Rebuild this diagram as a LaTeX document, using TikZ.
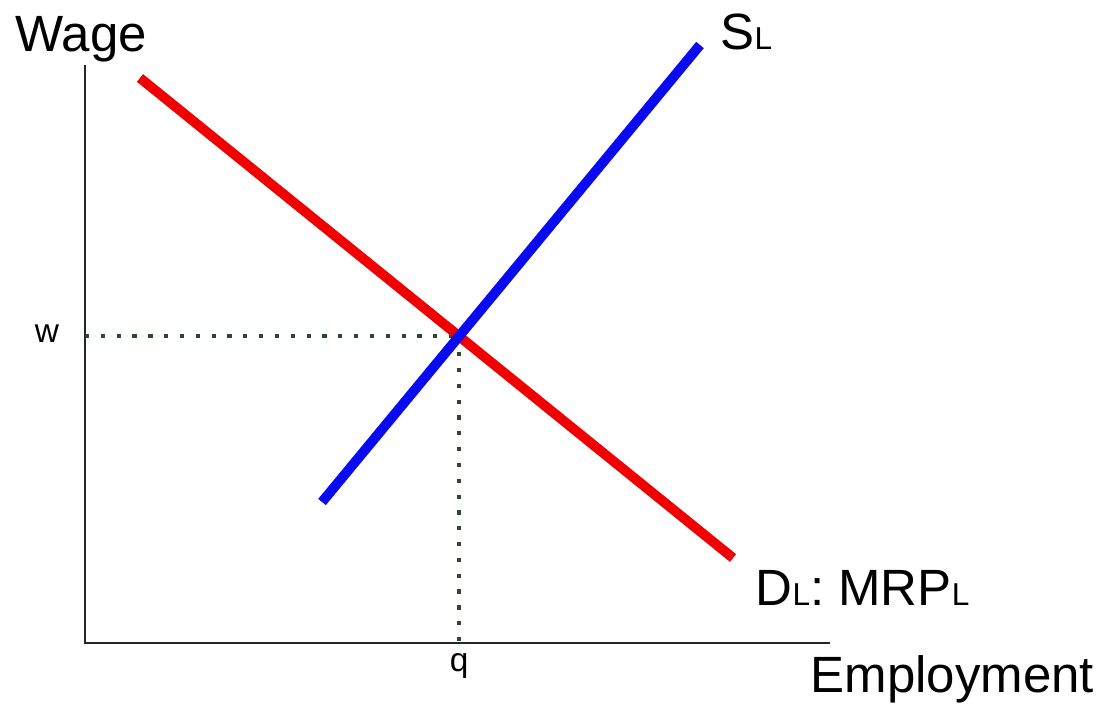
\documentclass[tikz,border=0pt]{standalone}
\usepackage{fontspec}
\setmainfont{Liberation Sans}
\usetikzlibrary{positioning, calc}
\definecolor{demandred}{RGB}{240,0,0}
\definecolor{supplyblue}{RGB}{10,10,240}
\definecolor{dotgreen}{RGB}{40,75,40}

\begin{document}
\begin{tikzpicture}[
        x=0.01cm, y=-0.01cm,
        axis/.style={line width=0.6pt, black!85},
        curve/.style={line width=2.8pt},
        guide/.style={dotgreen, line width=1.2pt, dash pattern=on 1.2pt off 3.3pt},
        biglabel/.style={inner sep=0pt, font=\fontsize{14.5}{16}\selectfont},
        smalllabel/.style={inner sep=0pt, font=\fontsize{9.5}{11}\selectfont}
    ]
        \useasboundingbox (0,0) rectangle (1107,707);

        % Axes
        \coordinate (origin) at (85,643);
        \coordinate (ytop) at (85,65);
        \coordinate (xend) at (830,643);
        \draw[axis] (ytop) -- (origin) -- (xend);

        % Demand and supply
        \coordinate (d1) at (140,78);
        \coordinate (d2) at (733,558);
        \coordinate (s1) at (322,502);
        \coordinate (s2) at (700,45);
        \coordinate (eq) at (intersection of d1--d2 and s1--s2);

        % Guides to the axes
        \coordinate (wy) at (origin |- eq);
        \coordinate (qx) at (eq |- origin);
        \draw[guide] (wy) -- (eq);
        \draw[guide] (eq) -- (qx);

        \draw[curve, demandred] (d1) -- (d2);
        \draw[curve, supplyblue] (s1) -- (s2);

        % Labels
        \node[biglabel, anchor=base west] (wage) at (15,52) {Wage};
        \node[biglabel, anchor=base west] (empl) at (810,692) {Employment};
        \node[biglabel, anchor=base west] (sl) at (720,50) {S{\fontsize{9}{10}\selectfont L}};
        \node[biglabel, anchor=base west] (dl) at (755,605) {D{\fontsize{9}{10}\selectfont L}: MRP{\fontsize{9}{10}\selectfont L}};
        \node[smalllabel, anchor=base] (w) at (47,343) {w};
        \node[smalllabel, anchor=base] (q) at (qx |- 0,671) {q};

    \end{tikzpicture}
\end{document}
